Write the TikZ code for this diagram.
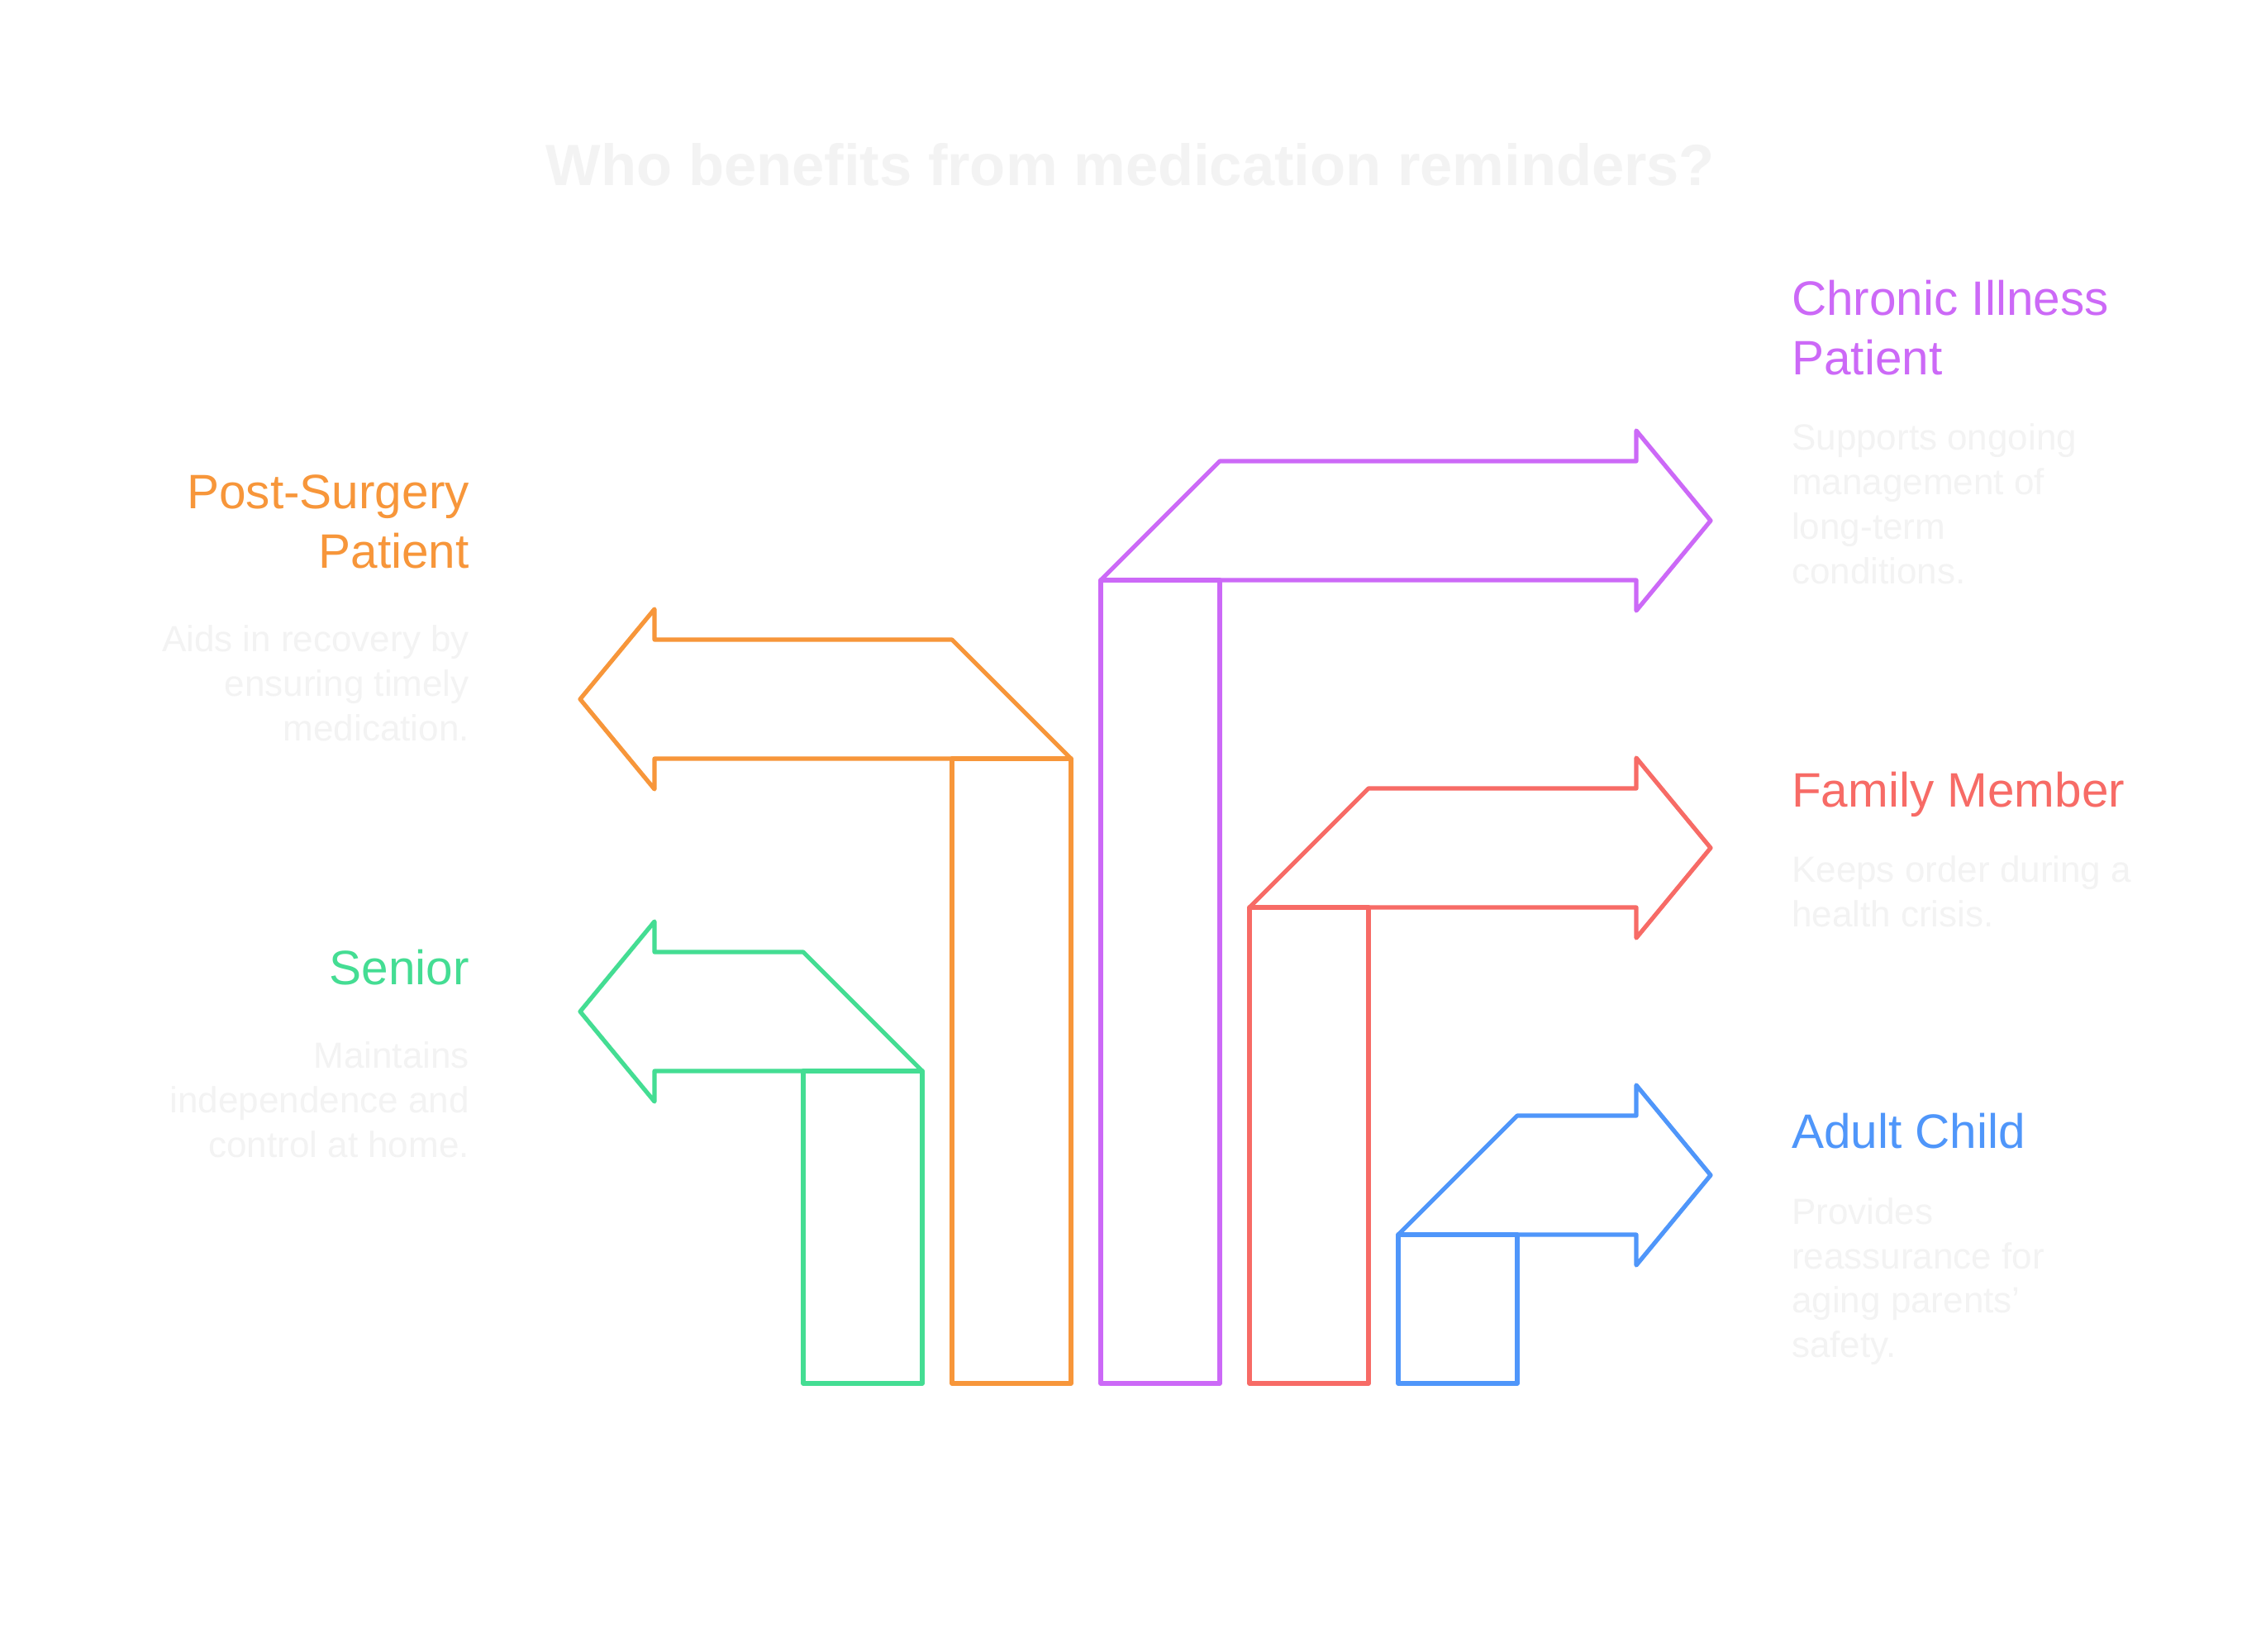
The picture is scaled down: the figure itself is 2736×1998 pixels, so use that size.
\documentclass[tikz,border=0pt]{standalone}
\usepackage{fontspec}
\setmainfont{Liberation Sans}
\definecolor{cgreen}{RGB}{68,221,147}
\definecolor{corange}{RGB}{247,150,58}
\definecolor{cpurple}{RGB}{204,105,247}
\definecolor{cred}{RGB}{247,107,102}
\definecolor{cblue}{RGB}{79,150,250}
\definecolor{ctext}{RGB}{243,243,243}
\tikzset{
  shp/.style={line width=5.2pt, line join=round, line cap=round},
  lbl/.style={inner sep=0pt, font=\fontsize{58.5}{72}\selectfont},
  dsc/.style={inner sep=0pt, text=ctext, font=\fontsize{44}{54}\selectfont},
  lft/.style={anchor=base east},
  rgt/.style={anchor=base west},
}
\begin{document}
\begin{tikzpicture}[x=1pt,y=-1pt]
\useasboundingbox (0,0) rectangle (2736,1998);
\fill[white] (0,0) rectangle (2736,1998);

% title
\node[anchor=base, inner sep=0pt, text=ctext, font=\bfseries\fontsize{70.5}{80}\selectfont] (title) at (1368,224) {Who benefits from medication reminders?};

% Senior (green)
\draw[shp, cgreen] (972,1296) rectangle (1116,1674);
\draw[shp, cgreen] (1116,1296) -- (792,1296) -- (792,1333) -- (702,1224) -- (792,1115) -- (792,1152) -- (972,1152) -- cycle;

% Post-Surgery (orange)
\draw[shp, corange] (1152,918) rectangle (1296,1674);
\draw[shp, corange] (1296,918) -- (792,918) -- (792,955) -- (702,846) -- (792,737) -- (792,774) -- (1152,774) -- cycle;

% Chronic (purple)
\draw[shp, cpurple] (1332,702) rectangle (1476,1674);
\draw[shp, cpurple] (1332,702) -- (1476,558) -- (1980,558) -- (1980,521) -- (2070,630) -- (1980,739) -- (1980,702) -- cycle;

% Family (red)
\draw[shp, cred] (1512,1098) rectangle (1656,1674);
\draw[shp, cred] (1512,1098) -- (1656,954) -- (1980,954) -- (1980,917) -- (2070,1026) -- (1980,1135) -- (1980,1098) -- cycle;

% Adult child (blue)
\draw[shp, cblue] (1692,1494) rectangle (1836,1674);
\draw[shp, cblue] (1692,1494) -- (1836,1350) -- (1980,1350) -- (1980,1313) -- (2070,1422) -- (1980,1531) -- (1980,1494) -- cycle;

% left labels
\node[lbl, lft, text=corange] (ps1) at (568,615) {Post-Surgery};
\node[lbl, lft, text=corange] (ps2) at (568,687) {Patient};
\node[dsc, lft] (psd1) at (568,788) {Aids in recovery by};
\node[dsc, lft] (psd2) at (568,842) {ensuring timely};
\node[dsc, lft] (psd3) at (568,896) {medication.};

\node[lbl, lft, text=cgreen] (se1) at (568,1191) {Senior};
\node[dsc, lft] (sed1) at (568,1292) {Maintains};
\node[dsc, lft] (sed2) at (568,1346) {independence and};
\node[dsc, lft] (sed3) at (568,1400) {control at home.};

% right labels
\node[lbl, rgt, text=cpurple] (ch1) at (2168,381) {Chronic Illness};
\node[lbl, rgt, text=cpurple] (ch2) at (2168,453) {Patient};
\node[dsc, rgt] (chd1) at (2168,544) {Supports ongoing};
\node[dsc, rgt] (chd2) at (2168,598) {management of};
\node[dsc, rgt] (chd3) at (2168,652) {long-term};
\node[dsc, rgt] (chd4) at (2168,706) {conditions.};

\node[lbl, rgt, text=cred] (fm1) at (2168,976) {Family Member};
\node[dsc, rgt] (fmd1) at (2168,1067) {Keeps order during a};
\node[dsc, rgt] (fmd2) at (2168,1121) {health crisis.};

\node[lbl, rgt, text=cblue] (ac1) at (2168,1389) {Adult Child};
\node[dsc, rgt] (acd1) at (2168,1481) {Provides};
\node[dsc, rgt] (acd2) at (2168,1535) {reassurance for};
\node[dsc, rgt] (acd3) at (2168,1588) {aging parents'};
\node[dsc, rgt] (acd4) at (2168,1642) {safety.};
\end{tikzpicture}
\end{document}
